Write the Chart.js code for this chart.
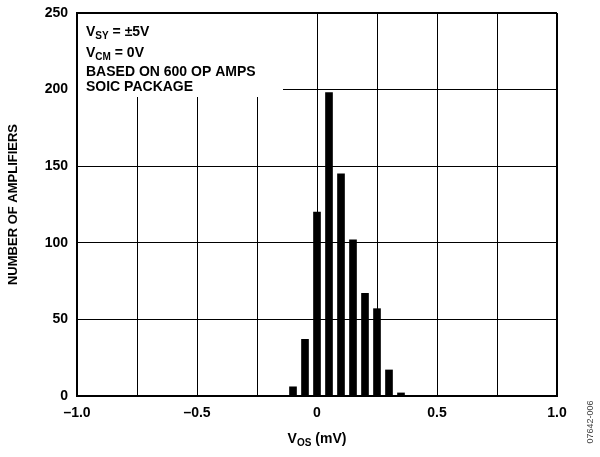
<!DOCTYPE html>
<html>
<head>
<meta charset="utf-8">
<script src="https://cdn.jsdelivr.net/npm/chart.js@4"></script>
<style>
  html, body { margin: 0; padding: 0; background: #fff; }
  #wrap { width: 600px; height: 457px; }
</style>
</head>
<body>
<div id="wrap"><canvas id="hist" width="600" height="457"></canvas></div>
<script>
// histogram bins (mV) and counts
const binCenters = [-0.10, -0.05, 0.00, 0.05, 0.10, 0.15, 0.20, 0.25, 0.30, 0.35];
const counts = [6, 37, 120, 198, 145, 102, 67, 57, 17, 2];

const xTickValues = [-1.0, -0.5, 0, 0.5, 1.0];
const xTickLabels = ['\u20131.0', '\u20130.5', '0', '0.5', '1.0'];
const yTickValues = [0, 50, 100, 150, 200, 250];

const FONT = '"Liberation Sans", Arial, sans-serif';

const notePlugin = {
    id: 'note',
    beforeDatasetsDraw(chart) {
        const ctx = chart.ctx;
        const a = chart.chartArea;
        ctx.save();
        // white box behind the conditions text
        ctx.fillStyle = '#fff';
        ctx.fillRect(a.left + 1, a.top + 1, 283 - a.left - 1, 97 - a.top - 1);

        ctx.fillStyle = '#000';
        ctx.textBaseline = 'alphabetic';
        const big = 'bold 14px ' + FONT;
        const small = 'bold 10px ' + FONT;
        const x0 = 86;
        function sub(main, s, rest, y) {
            let x = x0;
            ctx.font = big; ctx.fillText(main, x, y); x += ctx.measureText(main).width;
            ctx.font = small; ctx.fillText(s, x, y + 3); x += ctx.measureText(s).width;
            ctx.font = big; ctx.fillText(rest, x, y);
        }
        sub('V', 'SY', ' = \u00b15V', 36);
        sub('V', 'CM', ' = 0V', 57);
        ctx.font = big;
        ctx.fillText('BASED ON 600 OP AMPS', x0, 76);
        ctx.fillText('SOIC PACKAGE', x0, 91);
        ctx.restore();
    },
    afterDraw(chart) {
        const ctx = chart.ctx;
        ctx.save();
        // x axis title with subscript
        const big = 'bold 14px ' + FONT;
        const small = 'bold 10px ' + FONT;
        ctx.font = big;
        const w1 = ctx.measureText('V').width;
        const w3 = ctx.measureText(' (mV)').width;
        ctx.font = small;
        const w2 = ctx.measureText('OS').width;
        let x = 317 - (w1 + w2 + w3) / 2;
        const y = 443;
        ctx.fillStyle = '#000';
        ctx.font = big; ctx.fillText('V', x, y); x += w1;
        ctx.font = small; ctx.fillText('OS', x, y + 3); x += w2;
        ctx.font = big; ctx.fillText(' (mV)', x, y);

        // figure id on the right edge
        ctx.translate(591, 422);
        ctx.rotate(-Math.PI / 2);
        ctx.font = '9px ' + FONT;
        ctx.fillStyle = '#444';
        ctx.textAlign = 'center';
        ctx.textBaseline = 'middle';
        ctx.fillText('07642-006', 0, 0);
        ctx.restore();
    }
};

new Chart(document.getElementById('hist').getContext('2d'), {
    type: 'bar',
    data: {
        datasets: [{
            label: 'Amplifiers',
            data: binCenters.map((v, i) => ({ x: v, y: counts[i] })),
            backgroundColor: '#000',
            borderWidth: 0,
            barThickness: 7
        }]
    },
    options: {
        responsive: false,
        animation: false,
        layout: { padding: { left: 0, top: 13, right: 43, bottom: 0 } },
        plugins: {
            legend: { display: false },
            tooltip: { enabled: false }
        },
        scales: {
            x: {
                type: 'linear',
                min: -1, max: 1,
                offset: false,
                afterFit(scale) { scale.height = 61; },
                ticks: {
                    stepSize: 0.25,
                    autoSkip: false,
                    maxRotation: 0,
                    color: '#000',
                    padding: 9,
                    font: { family: FONT, size: 14, weight: 'bold' },
                    callback(v) {
                        const i = xTickValues.indexOf(v);
                        return i >= 0 ? xTickLabels[i] : '';
                    }
                },
                grid: {
                    offset: false,
                    color: '#000',
                    lineWidth: c => (c.index === 8 ? 2 : 1),
                    drawTicks: false
                },
                border: { color: '#000', width: 2 }
            },
            y: {
                min: 0, max: 250,
                afterFit(scale) {
                    scale.width = 77;
                    scale.paddingTop = 0;
                    scale.paddingBottom = 0;
                },
                afterBuildTicks(scale) { scale.ticks = yTickValues.map(v => ({ value: v })); },
                ticks: {
                    color: '#000',
                    padding: 9,
                    font: { family: FONT, size: 14, weight: 'bold' }
                },
                grid: {
                    color: '#000',
                    lineWidth: c => (c.index === 5 ? 2 : 1),
                    drawTicks: false
                },
                border: { color: '#000', width: 2 },
                title: {
                    display: true,
                    text: 'NUMBER OF AMPLIFIERS',
                    color: '#000',
                    padding: { top: 6, bottom: 0 },
                    font: { family: FONT, size: 13, weight: 'bold' }
                }
            }
        }
    },
    plugins: [notePlugin]
});
</script>
</body>
</html>
